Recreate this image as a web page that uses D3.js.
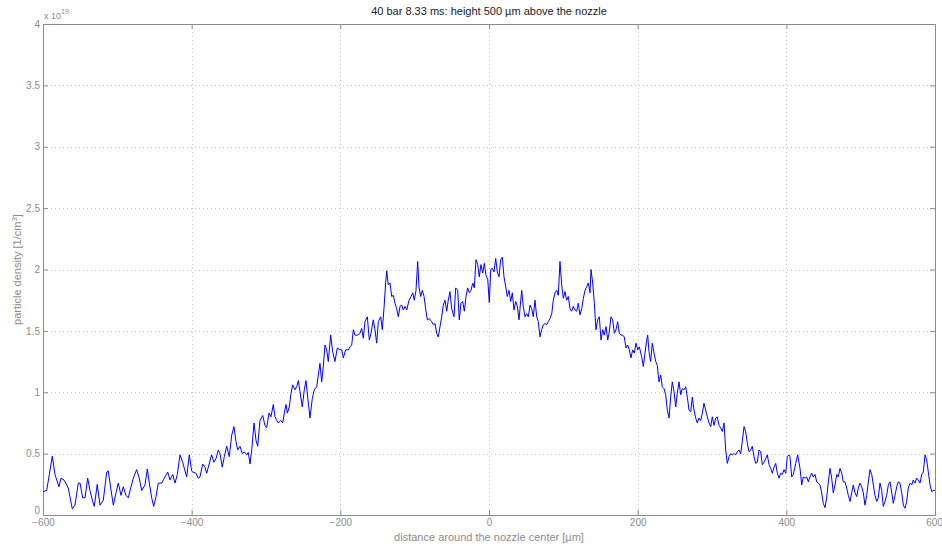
<!DOCTYPE html>
<html>
<head>
<meta charset="utf-8">
<script src="https://cdn.jsdelivr.net/npm/d3@7"></script>
<style>
  html, body { margin: 0; padding: 0; background: #fff; }
  svg { display: block; }
  text { font-family: "Liberation Sans", Arial, Helvetica, sans-serif; }
</style>
</head>
<body>
<svg id="chart" width="942" height="546"></svg>
<script>
// Particle density profile (units of 1e19 per cm^3) vs. distance from nozzle center (µm)
const positions = [
  -600,-595.0,-591.5,-587.5,-583.9,-578.5,-575.8,-571.8,-568.1,-566.0,-560.6,-557.0,-552.5,-550.2,-546.6,-543.5,-539.9,-536.8,-533.1,-531.0,
  -527.0,-523.3,-518.9,-514.3,-512.2,-508.9,-505.4,-501.8,-498.7,-495.1,-492.0,-488.3,-485.3,-482.0,-478.5,-474.0,-470.5,-467.2,-462.8,-459.7,
  -457.0,-453.8,-451.1,-448.0,-444.9,-440.3,-435.9,-432.2,-429.2,-425.5,-422.4,-419.3,-415.7,-412.1,-406.7,-403.2,-400.0,
  -398.6,-394.2,-391.1,-388.8,-385.2,-382.1,-379.8,-377.6,-373.1,-370.0,-367.3,-364.2,-361.9,-358.8,-356.1,-352.9,-349.4,-346.1,-343.1,-340.4,
  -338.1,-335.0,-331.9,-329.2,-326.0,-323.8,-321.5,-319.2,-316.1,-313.5,-311.2,-308.1,-304.4,-301.4,-299.1,-296.0,-293.3,-290.2,-287.9,-285.6,
  -283.5,-280.2,-277.5,-275.4,-273.1,-271.3,-268.7,-266.4,-264.1,-261.0,-258.7,-256.5,-254.3,-251.2,-248.5,-246.2,-243.9,-240.8,-237.7,-235.0,
  -231.8,-229.6,-227.4,-225.1,-222.9,-220.6,-218.3,-216.2,-213.0,-210.3,-207.2,-204.1,-200.5,
  -198.2,-196.0,-192.8,-189.3,-187.0,-184.7,-182.5,-180.3,-176.6,-173.5,-171.3,-169.1,-166.8,-163.7,-161.0,-158.7,-155.7,-153.4,-151.1,-148.9,
  -145.7,-143.5,-141.3,-139.0,-137.6,-135.5,-133.2,-130.9,-128.7,-126.5,-124.2,-122.0,-119.7,-117.4,-115.3,-113.0,-110.7,-107.6,-104.9,-102.6,
  -100.5,-98.2,-95.9,-94.2,-91.9,-89.7,-87.4,-85.2,-83.0,-80.3,-77.1,-74.9,-72.6,-70.4,-68.2,-65.9,-63.6,-61.5,-59.2,-56.9,
  -54.8,-52.5,-50.2,-47.1,-44.8,-42.1,-40.0,-37.7,-35.4,-33.2,-30.9,-28.7,-26.5,-24.2,-21.9,-19.8,-17.5,-15.2,-13.1,-10.8,
  -8.5,-6.3,-4.0,-1.7,0.4,
  2.3,4.4,6.7,9.0,11.2,13.5,15.7,17.9,20.2,22.5,24.6,26.9,29.2,31.4,33.6,35.9,38.1,40.4,42.7,44.0,
  46.1,48.4,50.7,52.9,55.2,57.5,59.6,61.9,64.2,66.3,68.6,70.9,73.1,75.3,77.6,79.8,82.1,84.4,86.5,88.8,
  91.1,93.2,95.5,97.8,100.0,102.2,104.5,106.7,109.0,111.3,113.4,115.7,118.0,120.1,122.4,124.7,126.9,129.2,131.4,133.6,
  135.9,137.2,139.5,141.7,143.9,146.2,148.4,150.7,153.0,155.1,157.4,159.7,161.8,164.1,166.4,168.6,170.9,173.1,175.3,177.6,
  179.9,182.0,184.3,186.6,188.8,191.0,193.3,195.5,197.8,200.1,202.2,
  205.4,207.6,209.9,212.2,213.5,215.2,217.5,219.7,222.0,224.3,226.4,228.7,231.0,233.1,235.4,237.7,239.9,242.2,244.4,246.6,
  248.9,251.2,253.3,255.6,257.9,260.0,262.3,264.6,266.8,269.1,271.4,273.5,275.8,278.1,280.2,282.5,284.8,287.0,289.2,291.5,
  293.7,296.0,298.3,300.4,302.7,305.0,307.1,309.4,311.7,313.9,316.2,318.4,320.6,322.9,325.2,327.3,329.6,331.9,334.0,336.3,
  338.6,340.8,343.1,345.3,347.5,349.8,352.1,354.2,356.5,358.8,360.9,363.2,365.5,367.7,370.0,372.3,374.4,376.7,379.0,381.1,
  383.4,385.7,387.9,390.1,392.4,394.6,396.9,399.2,401.3,403.6,
  404.9,407.2,409.4,412.6,415.3,418.4,420.7,422.8,425.1,427.4,429.6,431.8,434.1,436.3,438.6,440.9,443.0,445.3,447.6,449.7,
  452.0,454.3,456.5,458.8,461.0,463.2,465.5,467.8,469.9,472.2,474.5,476.6,478.9,481.2,483.4,485.7,487.9,490.1,492.4,494.7,
  496.8,499.1,501.4,503.6,505.8,508.1,510.3,512.6,514.9,517.0,519.3,521.6,523.7,526.0,528.3,530.5,532.7,535.0,537.2,539.5,
  541.8,543.9,546.2,548.5,550.6,552.9,555.2,557.4,559.7,561.9,564.1,566.4,568.7,570.8,573.1,575.4,577.5,579.8,582.1,584.3,
  586.6,588.8,591.0,593.3,595.6,597.7,600
];
const density = [
  0.19,0.20,0.33,0.48,0.33,0.23,0.30,0.285,0.245,0.22,0.05,0.08,0.26,0.26,0.14,0.14,0.30,0.20,0.11,0.07,
  0.25,0.08,0.12,0.35,0.36,0.22,0.08,0.18,0.26,0.16,0.23,0.16,0.14,0.22,0.30,0.37,0.30,0.20,0.245,0.375,
  0.26,0.14,0.07,0.15,0.26,0.26,0.31,0.35,0.285,0.33,0.26,0.33,0.49,0.43,0.31,0.49,0.36,
  0.35,0.34,0.30,0.31,0.415,0.39,0.34,0.39,0.49,0.43,0.46,0.53,0.50,0.39,0.475,0.56,0.475,0.65,0.72,0.60,
  0.53,0.56,0.50,0.515,0.49,0.51,0.415,0.53,0.75,0.61,0.56,0.77,0.81,0.73,0.71,0.83,0.80,0.90,0.80,0.77,
  0.75,0.77,0.75,0.83,0.90,0.83,0.88,0.99,1.06,1.02,1.045,1.095,1.005,0.88,1.02,1.095,0.96,0.79,0.95,1.02,
  1.045,1.14,1.235,1.085,1.21,1.385,1.345,1.25,1.465,1.33,1.25,1.36,1.345,
  1.345,1.28,1.345,1.345,1.37,1.385,1.51,1.465,1.465,1.48,1.52,1.44,1.575,1.615,1.425,1.48,1.59,1.51,1.40,1.575,
  1.615,1.51,1.68,1.89,1.99,1.875,1.89,1.78,1.79,1.725,1.68,1.615,1.70,1.71,1.67,1.70,1.67,1.75,1.78,1.81,
  1.75,1.83,2.065,1.86,1.78,1.83,1.78,1.68,1.59,1.60,1.575,1.55,1.56,1.48,1.45,1.535,1.615,1.71,1.75,1.66,
  1.75,1.82,1.68,1.615,1.85,1.83,1.59,1.725,1.74,1.66,1.78,1.85,1.81,1.83,1.89,1.85,2.08,2.04,1.94,2.04,
  1.97,2.05,1.95,1.92,1.73,
  2.00,2.01,1.98,2.09,1.98,1.94,2.08,2.10,1.94,1.86,1.78,1.83,1.74,1.81,1.67,1.74,1.70,1.59,1.75,1.83,
  1.70,1.615,1.64,1.615,1.71,1.68,1.615,1.75,1.615,1.575,1.45,1.51,1.55,1.56,1.55,1.575,1.60,1.64,1.75,1.81,
  1.83,1.79,2.065,1.875,1.765,1.82,1.75,1.78,1.68,1.66,1.70,1.67,1.66,1.725,1.63,1.68,1.765,1.83,1.86,1.89,
  1.81,2.00,1.89,1.725,1.51,1.59,1.615,1.425,1.51,1.465,1.535,1.425,1.49,1.615,1.59,1.48,1.51,1.575,1.48,1.465,
  1.465,1.45,1.36,1.385,1.345,1.28,1.345,1.32,1.40,1.345,1.37,
  1.29,1.21,1.32,1.425,1.465,1.33,1.25,1.40,1.32,1.25,1.22,1.085,1.14,1.045,1.03,0.98,0.855,0.79,0.96,1.085,
  1.005,0.88,0.99,1.085,0.98,1.03,1.02,1.045,0.96,0.855,0.84,0.96,0.855,0.79,0.75,0.79,0.77,0.83,0.91,0.855,
  0.80,0.75,0.72,0.80,0.73,0.79,0.80,0.73,0.71,0.68,0.75,0.53,0.42,0.475,0.50,0.49,0.50,0.49,0.515,0.53,
  0.50,0.60,0.72,0.68,0.585,0.515,0.53,0.56,0.475,0.42,0.43,0.53,0.515,0.41,0.43,0.46,0.49,0.41,0.38,0.34,
  0.39,0.42,0.34,0.30,0.34,0.33,0.37,0.34,0.475,0.49,
  0.475,0.31,0.33,0.42,0.49,0.38,0.245,0.31,0.30,0.31,0.27,0.31,0.34,0.31,0.33,0.27,0.26,0.245,0.18,0.095,
  0.06,0.14,0.27,0.38,0.30,0.18,0.245,0.33,0.31,0.38,0.34,0.27,0.27,0.22,0.16,0.11,0.18,0.245,0.18,0.15,
  0.22,0.26,0.23,0.18,0.08,0.16,0.27,0.37,0.33,0.245,0.16,0.11,0.14,0.26,0.20,0.07,0.11,0.16,0.245,0.27,
  0.18,0.095,0.16,0.23,0.27,0.26,0.18,0.08,0.055,0.11,0.22,0.26,0.245,0.285,0.26,0.30,0.285,0.26,0.33,0.35,
  0.49,0.45,0.35,0.245,0.19,0.20,0.20
];
const xTicks = [-600, -400, -200, 0, 200, 400, 600];
const yTicks = [0, 0.5, 1, 1.5, 2, 2.5, 3, 3.5, 4];
const yTickLabels = ["0", "0.5", "1", "1.5", "2", "2.5", "3", "3.5", "4"];

const titleText = "40 bar 8.33 ms: height 500 \u00b5m above the nozzle";
const xLabelText = "distance around the nozzle center [\u00b5m]";

const margin = { left: 43, right: 7, top: 24, bottom: 31 };
const W = 942, H = 546;
const iw = W - margin.left - margin.right;
const ih = H - margin.top - margin.bottom;

const svg = d3.select("#chart");
const g = svg.append("g").attr("transform", `translate(${margin.left},${margin.top})`);

const x = d3.scaleLinear().domain([-600, 600]).range([0, iw]);
const y = d3.scaleLinear().domain([0, 4]).range([ih, 0]);

const axisColor = "#8c8c8c";
const gridColor = "#c8c8c8";
const textColor = "#8c8c8c";

// dotted grid at interior ticks
g.append("g").selectAll("line").data(xTicks.slice(1, -1)).join("line")
  .attr("x1", d => Math.round(x(d)) + 0.5).attr("x2", d => Math.round(x(d)) + 0.5)
  .attr("y1", 0).attr("y2", ih)
  .attr("stroke", gridColor).attr("stroke-width", 1).attr("stroke-dasharray", "1,3");
g.append("g").selectAll("line").data(yTicks.slice(1, -1)).join("line")
  .attr("y1", d => Math.round(y(d)) + 0.5).attr("y2", d => Math.round(y(d)) + 0.5)
  .attr("x1", 0).attr("x2", iw)
  .attr("stroke", gridColor).attr("stroke-width", 1).attr("stroke-dasharray", "1,3");

// axes (ticks pointing inward, box around plot)
const tickLen = 5;
const xAxis = d3.axisBottom(x).tickValues(xTicks).tickSize(-tickLen).tickPadding(4).tickFormat(d3.format("d"));
const yAxis = d3.axisLeft(y).tickValues(yTicks).tickSize(-tickLen).tickPadding(3).tickFormat((d, i) => yTickLabels[i]);
const xAxisTop = d3.axisTop(x).tickValues(xTicks).tickSize(-tickLen).tickFormat("");
const yAxisRight = d3.axisRight(y).tickValues(yTicks).tickSize(-tickLen).tickFormat("");

function styleAxis(sel) {
  sel.selectAll("path").attr("stroke", axisColor);
  sel.selectAll("line").attr("stroke", axisColor);
  sel.selectAll("text").attr("fill", textColor).attr("font-size", 10)
    .attr("font-family", "'Liberation Sans', Arial, sans-serif");
}
g.append("g").attr("transform", `translate(0,${ih})`).call(xAxis).call(styleAxis);
const yAxisG = g.append("g").call(yAxis).call(styleAxis);
g.append("g").call(xAxisTop).call(styleAxis);
g.append("g").attr("transform", `translate(${iw},0)`).call(yAxisRight).call(styleAxis);

// keep the last x tick label inside the page
g.selectAll(".tick text").filter(d => d === 600).attr("text-anchor", "middle").attr("dx", -1);
// lift the zero label so it clears the x tick labels
yAxisG.selectAll(".tick text").filter(d => d === 0).attr("dy", "-0.12em");

// data line
const line = d3.line().x((d, i) => x(positions[i])).y(d => y(d));
g.append("path").datum(density)
  .attr("fill", "none").attr("stroke", "#0000ff").attr("stroke-width", 1)
  .attr("stroke-linejoin", "round").attr("d", line);

// exponent label
const expo = svg.append("text").attr("x", margin.left + 1).attr("y", 19)
  .attr("fill", textColor).attr("font-size", 9);
expo.append("tspan").text("x 10");
expo.append("tspan").attr("dy", -5).attr("font-size", 7).text("19");

// title
svg.append("text").attr("x", margin.left + iw / 2).attr("y", 15)
  .attr("text-anchor", "middle").attr("fill", "#222").attr("font-size", 11)
  .text(titleText);

// x label
svg.append("text").attr("x", margin.left + iw / 2).attr("y", 541)
  .attr("text-anchor", "middle").attr("fill", textColor).attr("font-size", 11)
  .text(xLabelText);

// y label
const yl = svg.append("text")
  .attr("transform", `translate(21,${margin.top + ih / 2}) rotate(-90)`)
  .attr("text-anchor", "middle").attr("fill", textColor).attr("font-size", 11);
yl.append("tspan").text("particle density [1/cm");
yl.append("tspan").attr("dy", -4).attr("font-size", 8).text("3");
yl.append("tspan").attr("dy", 4).text("]");
</script>
</body>
</html>
